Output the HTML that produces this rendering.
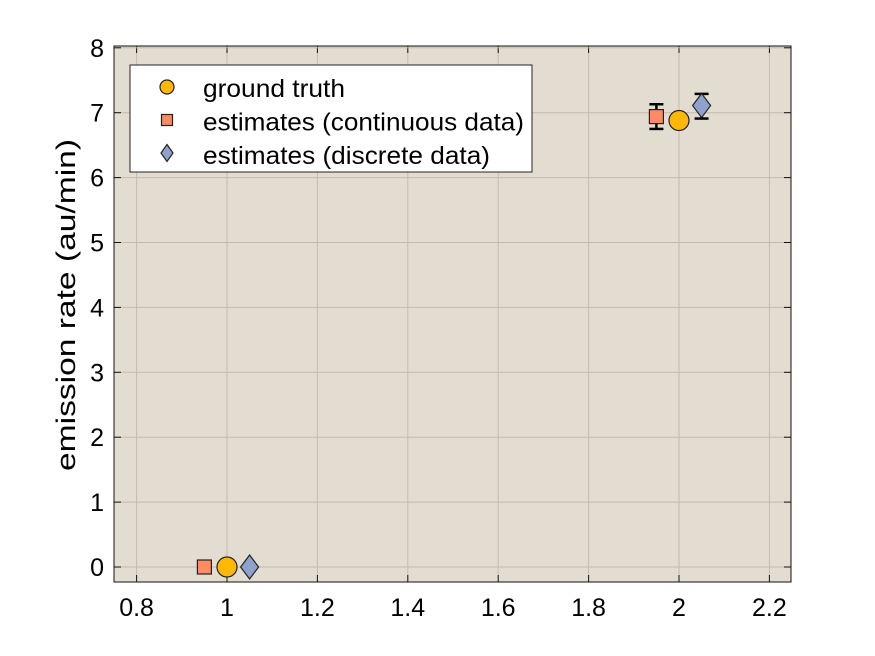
<!DOCTYPE html>
<html><head><meta charset="utf-8"><style>body{margin:0;background:#fff}svg{display:block;font-family:"Liberation Sans",Arial,sans-serif}</style></head>
<body>
<svg id="c" width="875" height="656"></svg>
<script>
const xTicks=[0.8,1,1.2,1.4,1.6,1.8,2,2.2];
const xTickLabels=["0.8","1","1.2","1.4","1.6","1.8","2","2.2"];
const yTicks=[0,1,2,3,4,5,6,7,8];
const truthX=[1,2], truthY=[0,6.88];
const contX=[0.95,1.95], contY=[0,6.94], contLo=[0,6.75], contHi=[0,7.13];
const discX=[1.05,2.05], discY=[0,7.11], discLo=[0,6.91], discHi=[0,7.29];
const L=114,R=791,T=46,B=582;
const X=v=>227+(v-1)*452;
const Y=v=>567-v*64.9;
const svg=document.getElementById('c');
const NS='http://www.w3.org/2000/svg';
function mk(t,a,p){const e=document.createElementNS(NS,t);for(const k in a)e.setAttribute(k,a[k]);(p||svg).appendChild(e);return e;}
let e=mk('rect',{x:L,y:T,width:R-L,height:B-T,fill:'#e3ddd1'});


xTicks.forEach((v,i)=>{
 let g=mk('line',{x1:X(v),x2:X(v),y1:T,y2:B,stroke:'#c2bbaf','stroke-width':1});
 
 
 mk('line',{x1:X(v),x2:X(v),y1:B,y2:B-7,stroke:'#111'});
 mk('line',{x1:X(v),x2:X(v),y1:T,y2:T+7,stroke:'#111'});
 let t=mk('text',{x:X(v),y:B+34,'text-anchor':'middle','font-size':25,fill:'#000'});t.textContent=xTickLabels[i];
 
 
});
yTicks.forEach(v=>{
 let g=mk('line',{x1:L,x2:R,y1:Y(v),y2:Y(v),stroke:'#c2bbaf','stroke-width':1});
 
 
 mk('line',{x1:L,x2:L+7,y1:Y(v),y2:Y(v),stroke:'#111'});
 mk('line',{x1:R,x2:R-7,y1:Y(v),y2:Y(v),stroke:'#111'});
 let t=mk('text',{x:L-10,y:Y(v)+9,'text-anchor':'end','font-size':25,fill:'#000'});t.textContent=v;
 
 
});
e=mk('rect',{x:L,y:T,width:R-L,height:B-T,fill:'none',stroke:'#111','stroke-width':1});


let yl=mk('text',{x:75,y:305,'text-anchor':'middle','font-size':27,fill:'#000',textLength:332,lengthAdjust:'spacingAndGlyphs',transform:'rotate(-90 75 305)'});yl.textContent='emission rate (au/min)';


function err(x,lo,hi){
 if(hi-lo<0.01)return;
 const g=mk('g',{stroke:'#000','stroke-width':2.5});
 mk('line',{x1:X(x),x2:X(x),y1:Y(lo),y2:Y(hi)},g);
 mk('line',{x1:X(x)-7,x2:X(x)+7,y1:Y(lo),y2:Y(lo)},g);
 mk('line',{x1:X(x)-7,x2:X(x)+7,y1:Y(hi),y2:Y(hi)},g);
 
 
}
function sq(cx,cy,s){return mk('rect',{x:cx-s/2,y:cy-s/2,width:s,height:s,fill:'#fb8c64',stroke:'#222','stroke-width':1.2});}
function di(cx,cy,w,h){return mk('polygon',{points:`${cx},${cy-h/2} ${cx+w/2},${cy} ${cx},${cy+h/2} ${cx-w/2},${cy}`,fill:'#8ea2cc',stroke:'#222','stroke-width':1.2});}
function ci(cx,cy,r){return mk('circle',{cx,cy,r,fill:'#ffb70a',stroke:'#222','stroke-width':1.2});}
contX.forEach((x,i)=>{err(x,contLo[i],contHi[i]);let m=sq(X(x),Y(contY[i]),14);});
discX.forEach((x,i)=>{err(x,discLo[i],discHi[i]);let m=di(X(x),Y(discY[i]),18,24);});
truthX.forEach((x,i)=>{let m=ci(X(x),Y(truthY[i]),10);});
const lg=mk('g',{});


mk('rect',{x:130,y:65,width:402,height:107,fill:'#fff',stroke:'#222','stroke-width':1},lg);
ci(167,87,7);sq(167,120,11);di(167,153,12,17);
const labels=['ground truth','estimates (continuous data)','estimates (discrete data)'];
const widths=[142,321,287];
labels.forEach((s,i)=>{let t=mk('text',{x:203,y:97+i*33.5,'font-size':25,fill:'#000',textLength:widths[i],lengthAdjust:'spacingAndGlyphs'},lg);t.textContent=s;
 
 });
</script>
</body></html>
